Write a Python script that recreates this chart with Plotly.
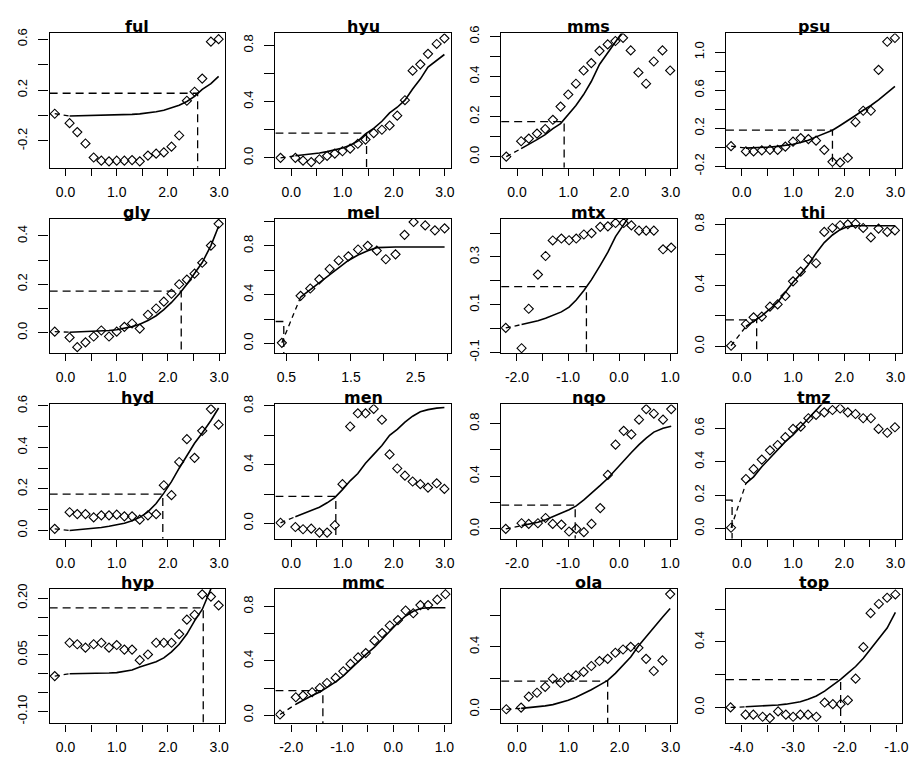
import plotly.graph_objects as go

# ---------------- data ----------------
names = ["ful", "hyu", "mms", "psu", "gly", "mel", "mtx", "thi",
         "hyd", "men", "nqo", "tmz", "hyp", "mmc", "ola", "top"]

dose_a = [-0.21, 0.08, 0.23, 0.39, 0.55, 0.70, 0.85, 1.00, 1.15, 1.30, 1.45,
          1.61, 1.77, 1.92, 2.07, 2.22, 2.37, 2.52, 2.67, 2.84, 2.99]
dose_b = [-2.22, -1.91, -1.77, -1.59, -1.44, -1.30, -1.13, -0.98, -0.84, -0.69, -0.54,
          -0.37, -0.22, -0.07, 0.09, 0.24, 0.39, 0.53, 0.68, 0.86, 1.02]
dose_c = [-4.21, -3.92, -3.77, -3.59, -3.45, -3.29, -3.14, -3.00, -2.86, -2.71, -2.55,
          -2.39, -2.23, -2.08, -1.94, -1.79, -1.64, -1.50, -1.34, -1.18, -1.02]
dose_mel = [0.43, 0.72, 0.87, 1.01, 1.17, 1.31, 1.46, 1.61, 1.76, 1.90, 2.04,
            2.19, 2.33, 2.47, 2.65, 2.80, 2.95]

ful_obs = [0.014, -0.06, -0.13, -0.22, -0.33, -0.355, -0.36, -0.355, -0.355, -0.35, -0.36,
           -0.315, -0.30, -0.29, -0.245, -0.157, 0.116, 0.187, 0.29, 0.58, 0.60]
ful_fit = [0.014, -0.004, -0.003, -0.002, -0.001, 0.0, 0.002, 0.004, 0.006, 0.009, 0.013,
           0.02, 0.03, 0.042, 0.06, 0.08, 0.11, 0.15, 0.205, 0.25, 0.307]

hyu_obs = [0.0, 0.0, -0.02, -0.03, -0.01, 0.014, 0.03, 0.047, 0.066, 0.10, 0.13,
           0.176, 0.2, 0.23, 0.3, 0.41, 0.62, 0.665, 0.74, 0.81, 0.85]
hyu_fit = [0.0, 0.015, 0.02, 0.028, 0.035, 0.044, 0.055, 0.07, 0.09, 0.12, 0.17,
           0.21, 0.26, 0.32, 0.36, 0.41, 0.49, 0.56, 0.645, 0.69, 0.735]

mms_obs = [0.0, 0.077, 0.09, 0.115, 0.138, 0.184, 0.25, 0.31, 0.364, 0.43, 0.467,
           0.528, 0.56, 0.577, 0.593, 0.53, 0.42, 0.364, 0.475, 0.53, 0.43]
mms_fit = [0.0, 0.04, 0.06, 0.085, 0.11, 0.14, 0.165, 0.21, 0.255, 0.31, 0.375,
           0.46, 0.52, 0.575, 0.63, 0.68, 0.72, 0.76, 0.79, 0.81, 0.83]

psu_obs = [0.012, -0.043, -0.043, -0.032, -0.026, -0.026, 0.008, 0.06, 0.097, 0.087, 0.07,
           -0.026, -0.152, -0.16, -0.11, 0.265, 0.385, 0.385, 0.815, 1.11, 1.15]
psu_fit = [0.012, -0.008, -0.006, -0.002, 0.003, 0.01, 0.02, 0.033, 0.05, 0.075, 0.11,
           0.145, 0.18, 0.23, 0.28, 0.335, 0.39, 0.44, 0.5, 0.57, 0.64]

gly_obs = [0.004, -0.02, -0.06, -0.04, -0.016, 0.009, -0.016, 0.004, 0.024, 0.038, 0.017,
           0.074, 0.1, 0.128, 0.161, 0.2, 0.219, 0.244, 0.289, 0.36, 0.45]
gly_fit = [0.004, 0.002, 0.003, 0.004, 0.005, 0.007, 0.009, 0.012, 0.017, 0.025, 0.035,
           0.05, 0.07, 0.095, 0.125, 0.16, 0.2, 0.245, 0.29, 0.36, 0.44]

mel_obs = [0.005, 0.39, 0.45, 0.525, 0.61, 0.68, 0.714, 0.77, 0.8, 0.76, 0.69,
           0.73, 0.89, 0.995, 0.967, 0.927, 0.943]
mel_fit = [0.005, 0.38, 0.44, 0.50, 0.565, 0.62, 0.68, 0.725, 0.76, 0.785, 0.79,
           0.79, 0.79, 0.79, 0.79, 0.79, 0.79]

mtx_obs = [0.003, -0.082, 0.083, 0.226, 0.304, 0.369, 0.377, 0.37, 0.377, 0.394, 0.40,
           0.426, 0.428, 0.442, 0.442, 0.432, 0.41, 0.41, 0.41, 0.332, 0.339]
mtx_fit = [0.003, 0.017, 0.023, 0.033, 0.043, 0.055, 0.07, 0.09, 0.12, 0.16, 0.205,
           0.265, 0.32, 0.385, 0.44, 0.49, 0.53, 0.57, 0.6, 0.63, 0.65]

thi_obs = [0.004, 0.145, 0.19, 0.195, 0.26, 0.275, 0.33, 0.426, 0.49, 0.57, 0.545,
           0.75, 0.776, 0.794, 0.8, 0.804, 0.776, 0.714, 0.772, 0.75, 0.76]
thi_fit = [0.004, 0.13, 0.165, 0.2, 0.245, 0.29, 0.355, 0.42, 0.475, 0.535, 0.61,
           0.68, 0.73, 0.765, 0.785, 0.79, 0.79, 0.79, 0.79, 0.79, 0.79]

hyd_obs = [0.008, 0.088, 0.079, 0.079, 0.063, 0.073, 0.073, 0.076, 0.068, 0.068, 0.052,
           0.073, 0.079, 0.218, 0.17, 0.33, 0.44, 0.35, 0.48, 0.585, 0.51]
hyd_fit = [0.008, 0.0, 0.003, 0.006, 0.01, 0.014, 0.02, 0.026, 0.035, 0.047, 0.063,
           0.09, 0.13, 0.18, 0.235, 0.30, 0.36, 0.42, 0.47, 0.53, 0.59]

men_obs = [0.004, -0.025, -0.04, -0.036, -0.063, -0.063, -0.013, 0.267, 0.66, 0.75, 0.75,
           0.78, 0.706, 0.47, 0.374, 0.325, 0.285, 0.267, 0.244, 0.273, 0.235]
men_fit = [0.004, 0.045, 0.065, 0.09, 0.11, 0.14, 0.175, 0.23, 0.29, 0.34, 0.41,
           0.47, 0.53, 0.60, 0.64, 0.69, 0.73, 0.76, 0.775, 0.785, 0.79]

nqo_obs = [0.0, 0.043, 0.038, 0.043, 0.083, 0.038, 0.033, -0.02, 0.0, -0.025, 0.038,
           0.158, 0.41, 0.64, 0.745, 0.718, 0.83, 0.91, 0.875, 0.83, 0.91]
nqo_fit = [0.0, 0.025, 0.035, 0.05, 0.07, 0.09, 0.12, 0.145, 0.175, 0.22, 0.27,
           0.33, 0.385, 0.45, 0.52, 0.58, 0.64, 0.69, 0.735, 0.765, 0.78]

tmz_obs = [0.006, 0.297, 0.356, 0.413, 0.468, 0.50, 0.547, 0.596, 0.61, 0.66, 0.68,
           0.695, 0.709, 0.718, 0.695, 0.685, 0.66, 0.66, 0.596, 0.573, 0.606]
tmz_fit = [0.006, 0.27, 0.31, 0.37, 0.42, 0.47, 0.52, 0.56, 0.61, 0.66, 0.71,
           0.76, 0.8, 0.83, 0.86, 0.88, 0.9, 0.91, 0.92, 0.93, 0.94]

hyp_obs = [-0.006, 0.082, 0.078, 0.069, 0.078, 0.082, 0.069, 0.076, 0.064, 0.064, 0.036,
           0.051, 0.082, 0.082, 0.082, 0.105, 0.143, 0.156, 0.21, 0.204, 0.181]
hyp_fit = [-0.006, 0.0, 0.0, 0.0, 0.001, 0.001, 0.002, 0.003, 0.007, 0.01, 0.018,
           0.025, 0.032, 0.042, 0.058, 0.078, 0.105, 0.14, 0.17, 0.225, 0.27]

mmc_obs = [0.005, 0.132, 0.144, 0.169, 0.2, 0.237, 0.274, 0.323, 0.377, 0.425, 0.457,
           0.548, 0.604, 0.66, 0.70, 0.77, 0.75, 0.81, 0.81, 0.85, 0.89]
mmc_fit = [0.005, 0.08, 0.11, 0.145, 0.17, 0.205, 0.245, 0.29, 0.34, 0.39, 0.445,
           0.50, 0.56, 0.62, 0.68, 0.73, 0.765, 0.785, 0.79, 0.79, 0.79]

ola_obs = [0.0, 0.011, 0.081, 0.106, 0.143, 0.196, 0.17, 0.202, 0.217, 0.24, 0.277,
           0.309, 0.323, 0.362, 0.383, 0.4, 0.394, 0.323, 0.245, 0.313, 0.738]
ola_fit = [0.0, 0.006, 0.01, 0.016, 0.022, 0.03, 0.042, 0.058, 0.077, 0.1, 0.125,
           0.155, 0.185, 0.23, 0.28, 0.335, 0.405, 0.465, 0.525, 0.59, 0.645]

top_obs = [0.0, -0.044, -0.044, -0.057, -0.065, -0.024, -0.044, -0.057, -0.044, -0.044, -0.057,
           0.03, 0.02, 0.02, 0.044, 0.176, 0.368, 0.576, 0.632, 0.67, 0.69]
top_fit = [0.0, 0.004, 0.006, 0.008, 0.01, 0.015, 0.02, 0.026, 0.035, 0.05, 0.07,
           0.10, 0.135, 0.172, 0.21, 0.25, 0.30, 0.355, 0.42, 0.485, 0.58]

# threshold (dashed guide) x and y per panel
thr_x = [2.58, 1.47, 0.92, 1.77, 2.26, 0.46, -0.64, 0.29,
         1.90, 0.87, -0.86, -0.19, 2.69, -1.38, 1.77, -2.08]
thr_y = [0.175, 0.176, 0.175, 0.18, 0.172, 0.18, 0.176, 0.173,
         0.175, 0.184, 0.18, 0.171, 0.174, 0.18, 0.18, 0.17]

# tick values / labels
xt_a = [0.0, 0.5, 1.0, 1.5, 2.0, 2.5, 3.0]
xl_a = ["0.0", "", "1.0", "", "2.0", "", "3.0"]
xt_b = [-2.0, -1.5, -1.0, -0.5, 0.0, 0.5, 1.0]
xl_b = ["-2.0", "", "-1.0", "", "0.0", "", "1.0"]
xt_c = [-4.0, -3.5, -3.0, -2.5, -2.0, -1.5, -1.0]
xl_c = ["-4.0", "", "-3.0", "", "-2.0", "", "-1.0"]
xt_m = [0.5, 1.0, 1.5, 2.0, 2.5, 3.0]
xl_m = ["0.5", "", "1.5", "", "2.5", ""]

yt_ful = [-0.2, 0.0, 0.2, 0.4, 0.6];  yl_ful = ["-0.2", "", "0.2", "", "0.6"]
yt_08 = [0.0, 0.2, 0.4, 0.6, 0.8];    yl_08 = ["0.0", "", "0.4", "", "0.8"]
yt_06 = [0.0, 0.1, 0.2, 0.3, 0.4, 0.5, 0.6]; yl_06 = ["0.0", "", "0.2", "", "0.4", "", "0.6"]
yt_psu = [-0.2, 0.0, 0.2, 0.4, 0.6, 0.8, 1.0]; yl_psu = ["-0.2", "", "0.2", "", "0.6", "", "1.0"]
yt_gly = [0.0, 0.1, 0.2, 0.3, 0.4];   yl_gly = ["0.0", "", "0.2", "", "0.4"]
yt_mel = [0.0, 0.2, 0.4, 0.6, 0.8, 1.0]; yl_mel = ["0.0", "", "0.4", "", "0.8", ""]
yt_mtx = [-0.1, 0.0, 0.1, 0.2, 0.3, 0.4]; yl_mtx = ["-0.1", "", "0.1", "", "0.3", ""]
yt_tmz = [0.0, 0.2, 0.4, 0.6];       yl_tmz = ["0.0", "0.2", "0.4", "0.6"]
yt_hyp = [-0.10, -0.05, 0.0, 0.05, 0.10, 0.15, 0.20]; yl_hyp = ["-0.10", "", "", "0.05", "", "", "0.20"]
yt_ola = [0.0, 0.2, 0.4, 0.6];       yl_ola = ["0.0", "", "0.4", ""]

# ---------------- assembly ----------------
doses = [dose_a, dose_a, dose_a, dose_a, dose_a, dose_mel, dose_b, dose_a,
         dose_a, dose_a, dose_b, dose_a, dose_a, dose_b, dose_a, dose_c]
obs = [ful_obs, hyu_obs, mms_obs, psu_obs, gly_obs, mel_obs, mtx_obs, thi_obs,
       hyd_obs, men_obs, nqo_obs, tmz_obs, hyp_obs, mmc_obs, ola_obs, top_obs]
fits = [ful_fit, hyu_fit, mms_fit, psu_fit, gly_fit, mel_fit, mtx_fit, thi_fit,
        hyd_fit, men_fit, nqo_fit, tmz_fit, hyp_fit, mmc_fit, ola_fit, top_fit]
xticks = [(xt_a, xl_a)] * 5 + [(xt_m, xl_m), (xt_b, xl_b), (xt_a, xl_a),
          (xt_a, xl_a), (xt_a, xl_a), (xt_b, xl_b), (xt_a, xl_a),
          (xt_a, xl_a), (xt_b, xl_b), (xt_a, xl_a), (xt_c, xl_c)]
yticks = [(yt_ful, yl_ful), (yt_08, yl_08), (yt_06, yl_06), (yt_psu, yl_psu),
          (yt_gly, yl_gly), (yt_mel, yl_mel), (yt_mtx, yl_mtx), (yt_08, yl_08),
          (yt_06, yl_06), (yt_08, yl_08), (yt_08, yl_08), (yt_tmz, yl_tmz),
          (yt_hyp, yl_hyp), (yt_08, yl_08), (yt_ola, yl_ola), (yt_ola, yl_ola)]

xr_a = [-0.31, 3.12]
xranges = [xr_a, xr_a, xr_a, xr_a, xr_a, [0.33, 3.05], [-2.31, 1.13], xr_a,
           xr_a, xr_a, [-2.31, 1.13], xr_a, xr_a, [-2.31, 1.13], xr_a, [-4.30, -0.90]]
yranges = [[-0.41, 0.645], [-0.07, 0.885], [-0.055, 0.615], [-0.214, 1.198],
           [-0.085, 0.47], [-0.08, 1.02], [-0.103, 0.459], [-0.045, 0.835],
           [-0.04, 0.607], [-0.105, 0.81], [-0.075, 0.945], [-0.06, 0.742],
           [-0.131, 0.224], [-0.06, 0.928], [-0.09, 0.77], [-0.097, 0.723]]

W, H = 920, 767
col_left = [50, 277.5, 505, 731.5]
row_top = [25, 215, 405, 594]
box_w, box_h = 177, 137.5

fig = go.Figure()
layout = dict(width=W, height=H, margin=dict(l=0, r=0, t=0, b=0),
              paper_bgcolor="white", plot_bgcolor="white", showlegend=False,
              annotations=[])

dash_guide = "8px,5px"
for i, name in enumerate(names):
    r, c = divmod(i, 4)
    k = i + 1
    xa = "x" if k == 1 else f"x{k}"
    ya = "y" if k == 1 else f"y{k}"
    x0 = col_left[c] / W
    x1 = (col_left[c] + box_w) / W
    y1 = 1 - row_top[r] / H
    y0 = 1 - (row_top[r] + box_h) / H
    xd, od, fd = doses[i], obs[i], fits[i]
    xmin = xranges[i][0]
    ymin = yranges[i][0]

    # guide lines
    fig.add_trace(go.Scatter(x=[xmin, thr_x[i], thr_x[i]], y=[thr_y[i], thr_y[i], ymin],
                             mode="lines", line=dict(color="black", width=1.3, dash=dash_guide),
                             xaxis=xa, yaxis=ya, hoverinfo="skip"))
    # fitted curve: first (extrapolated) segment dashed
    fig.add_trace(go.Scatter(x=xd[:2], y=fd[:2], mode="lines",
                             line=dict(color="black", width=1.3, dash="5px,4px"),
                             xaxis=xa, yaxis=ya, hoverinfo="skip"))
    fig.add_trace(go.Scatter(x=xd[1:], y=fd[1:], mode="lines",
                             line=dict(color="black", width=1.6),
                             xaxis=xa, yaxis=ya))
    # observations
    fig.add_trace(go.Scatter(x=xd, y=od, mode="markers",
                             marker=dict(symbol="diamond-open", size=7, color="black",
                                         line=dict(width=1.1, color="black")),
                             xaxis=xa, yaxis=ya))

    xt, xl = xticks[i]
    yt, yl = yticks[i]
    axis_common = dict(showgrid=False, zeroline=False, showline=True, mirror=True,
                       linecolor="black", linewidth=1.4, ticks="outside",
                       tickcolor="black", tickwidth=1.3)
    layout["xaxis" if k == 1 else f"xaxis{k}"] = dict(
        axis_common, domain=[x0, x1], anchor=ya, range=xranges[i],
        tickmode="array", tickvals=xt, ticktext=xl, ticklen=7,
        ticklabelstandoff=4,
        tickfont=dict(family="Liberation Sans, Arial", size=14, color="black"))
    layout["yaxis" if k == 1 else f"yaxis{k}"] = dict(
        axis_common, domain=[y0, y1], anchor=xa, range=yranges[i],
        tickmode="array", tickvals=yt, ticktext=yl, ticklen=10, tickangle=-90,
        ticklabelstandoff=6,
        tickfont=dict(family="Liberation Sans, Arial", size=13, color="black"))
    layout["annotations"].append(dict(
        text=f"<b>{name}</b>", xref="paper", yref="paper",
        x=(x0 + x1) / 2, y=y1, xanchor="center", yanchor="bottom", yshift=-5,
        showarrow=False, font=dict(family="DejaVu Sans", size=16, color="black")))

fig.update_layout(**layout)
fig.write_html("out.html")
